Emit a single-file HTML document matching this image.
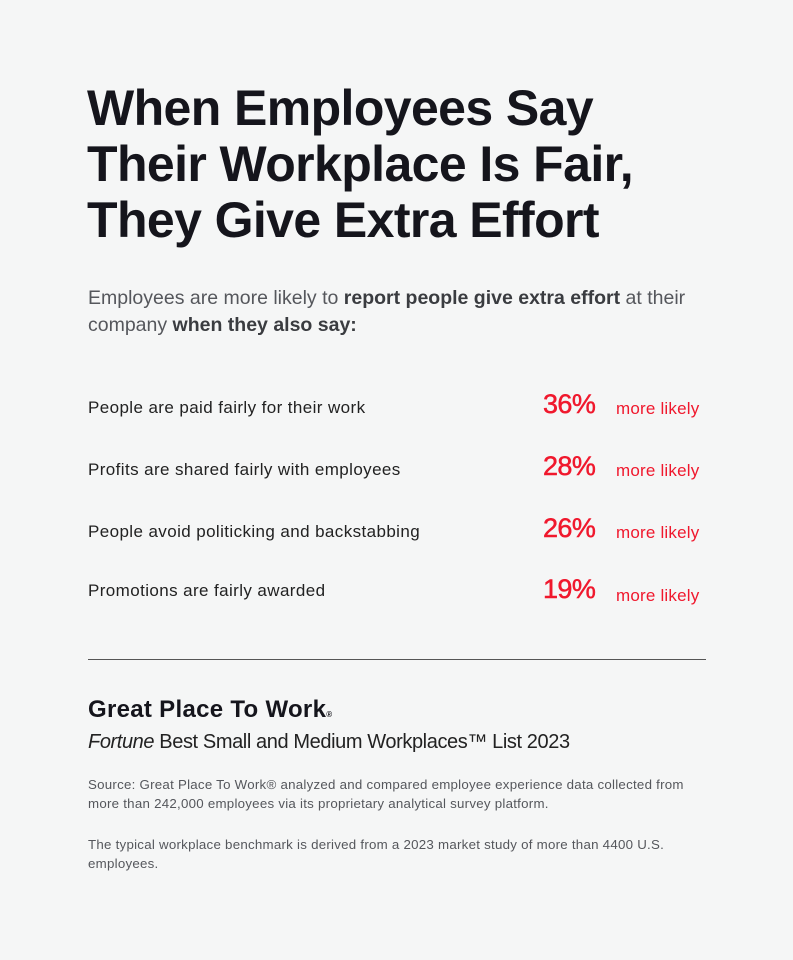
<!DOCTYPE html><html><head><style>
body{margin:0;width:793px;height:960px;background:#f5f6f6;font-family:"Liberation Sans",sans-serif;position:relative;overflow:hidden;color:#1b1b22}
.a{position:absolute;white-space:nowrap}
h1{position:absolute;left:87px;top:80px;margin:0;font-size:50px;line-height:56px;font-weight:bold;letter-spacing:-0.6px;color:#15151c}
.sub{left:88px;top:285px;font-size:19.5px;line-height:27px;color:#55575c;letter-spacing:0px}
.sub b{color:#3a3c40}
.l{left:88px;font-size:17px;color:#222;letter-spacing:0.4px}
.p{left:543px;font-size:27px;color:#f0182d;letter-spacing:-0.6px;-webkit-text-stroke:0.5px #f0182d}
.m{left:616px;font-size:17px;color:#f0182d;letter-spacing:0.2px}
.s{left:88px;font-size:13.3px;line-height:19px;color:#55575c;letter-spacing:0.25px}
</style></head><body>
<h1>When Employees Say<br>Their Workplace Is Fair,<br>They Give Extra Effort</h1>
<div class="a sub">Employees are more likely to <b>report people give extra effort</b> at their<br>company <b>when they also say:</b></div>
<div class="a l" style="top:398px">People are paid fairly for their work</div>
<div class="a p" style="top:389px">36%</div><div class="a m" style="top:399px">more likely</div>
<div class="a l" style="top:460px">Profits are shared fairly with employees</div>
<div class="a p" style="top:451px">28%</div><div class="a m" style="top:461px">more likely</div>
<div class="a l" style="top:522px">People avoid politicking and backstabbing</div>
<div class="a p" style="top:513px">26%</div><div class="a m" style="top:523px">more likely</div>
<div class="a l" style="top:581px">Promotions are fairly awarded</div>
<div class="a p" style="top:574px">19%</div><div class="a m" style="top:586px">more likely</div>
<div class="a" style="left:88px;top:659px;width:618px;height:1px;background:#555"></div>
<div class="a" style="left:88px;top:696px;font-size:24px;font-weight:bold;letter-spacing:0.3px;color:#15151c">Great Place To Work<span style="font-size:8px">®</span></div>
<div class="a" style="left:88px;top:731px;font-size:20px;color:#222;letter-spacing:-0.4px"><i>Fortune</i> Best Small and Medium Workplaces™ List 2023</div>
<div class="a s" style="top:775px">Source: Great Place To Work® analyzed and compared employee experience data collected from<br>more than 242,000 employees via its proprietary analytical survey platform.</div>
<div class="a s" style="top:835px">The typical workplace benchmark is derived from a 2023 market study of more than 4400 U.S.<br>employees.</div>
</body></html>
